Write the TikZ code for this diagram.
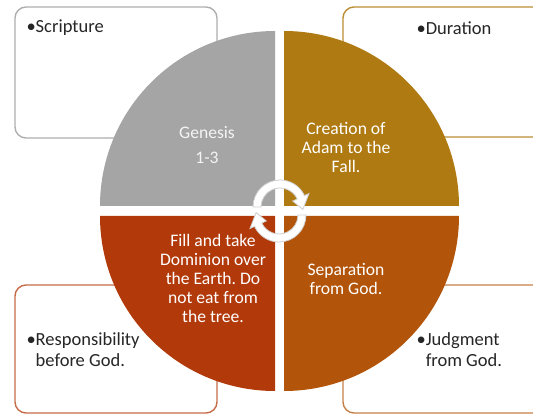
\documentclass[tikz,border=0pt]{standalone}
\usepackage{fontspec}
\setmainfont{Carlito}
\frenchspacing
\definecolor{gengray}{HTML}{A5A5A5}
\definecolor{adamgold}{HTML}{AF7A12}
\definecolor{fallred}{HTML}{B23A0A}
\definecolor{sepbrown}{HTML}{B25409}
\definecolor{arrowline}{HTML}{CFCFCF}
\tikzset{
  infobox/.style={draw=#1, line width=1.4pt, fill=white, rounded corners=11pt},
  quartertext/.style={text=white, align=center, font=\fontsize{17.6}{19}\selectfont},
  boxtext/.style={text=black!85, align=left, font=\fontsize{18.5}{21}\selectfont},
  cyclearrow/.style={fill=white, draw=arrowline, line width=0.8pt}
}

\begin{document}
\begin{tikzpicture}[x=1pt,y=1pt]
\useasboundingbox (0,0) rectangle (533,415);
\begin{scope} % start of clip scope
\clip (0,0) rectangle (533,415);
\draw[infobox=gengray!90] (15,277) rectangle (217,408);
\draw[infobox=adamgold!85] (343,278) rectangle (545,408);
\draw[infobox=fallred!75] (15,2) rectangle (217,130);
\draw[infobox=sepbrown!75] (343,2) rectangle (545,130);
\node[boxtext, anchor=west] (scripture) at (23,387) {•Scripture};
\node[boxtext, anchor=west] (duration) at (413,387) {•Duration};
\node[boxtext, anchor=west] (responsibility) at (23,65) {•Responsibility\\\hphantom{•}before God.};
\node[boxtext, anchor=west] (judgment) at (413,65) {•Judgment\\\hphantom{•}from God.};
% four quarters of the circle
\fill[gengray] (275,209) -- (100,209) arc[start angle=180,end angle=90,radius=175pt] -- cycle;
\fill[adamgold] (284,209) -- (284,384) arc[start angle=90,end angle=0,radius=175pt] -- cycle;
\fill[fallred] (275,199) -- (275,24) arc[start angle=270,end angle=180,radius=175pt] -- cycle;
\fill[sepbrown] (284,199) -- (459,199) arc[start angle=0,end angle=-90,radius=175pt] -- cycle;
\node[quartertext, text=white!88!gengray] (genesis) at (207,270) {Genesis\\[6pt]1-3};
\node[quartertext] (creation) at (346,268) {Creation of\\Adam to the\\Fall.};
\node[quartertext] (dominion) at (213,137) {Fill and take\\Dominion over\\the Earth. Do\\not eat from\\the tree.};
\node[quartertext] (separation) at (346,136) {Separation\\from God.};
% cycle arrows in the middle
\filldraw[cyclearrow, shift={(280,208)}] (180:27pt) arc[start angle=180,end angle=25,radius=27pt] -- (25:32pt) -- (-6:23pt) -- (25:14pt) -- (25:19pt) arc[start angle=25,end angle=180,radius=19pt] -- cycle;
\filldraw[cyclearrow, shift={(279,200)}, rotate=180] (180:27pt) arc[start angle=180,end angle=25,radius=27pt] -- (25:32pt) -- (-6:23pt) -- (25:14pt) -- (25:19pt) arc[start angle=25,end angle=180,radius=19pt] -- cycle;
\end{scope} % end of clip scope
\end{tikzpicture}
\end{document}
